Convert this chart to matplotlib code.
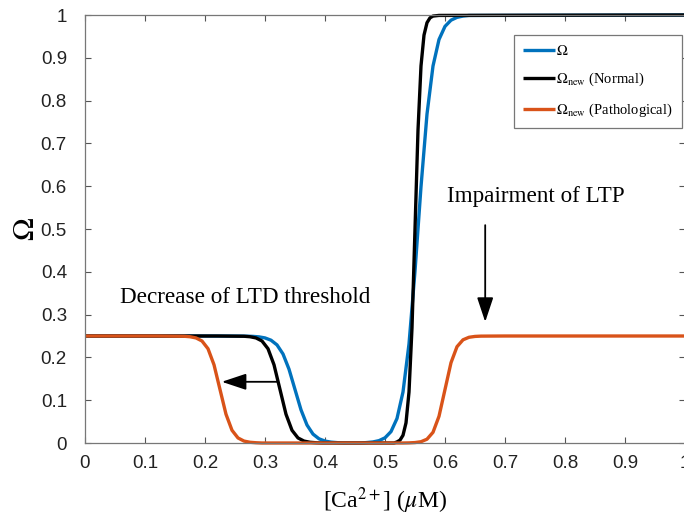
import matplotlib
matplotlib.use("Agg")
import matplotlib.pyplot as plt

# ---- data ----
omega_x = [0.00, 0.20, 0.26, 0.27, 0.28, 0.29, 0.30, 0.31, 0.32, 0.33, 0.34, 0.35, 0.36, 0.37,
           0.38, 0.39, 0.40, 0.41, 0.42, 0.43, 0.46, 0.47, 0.48, 0.49, 0.50, 0.51, 0.52, 0.53,
           0.54, 0.55, 0.56, 0.57, 0.58, 0.59, 0.60, 0.61, 0.62, 0.63, 0.64, 1.00]
omega_y = [0.25, 0.25, 0.2498, 0.2496, 0.2491, 0.2480, 0.2455, 0.2402, 0.2292, 0.2080, 0.1725,
           0.125, 0.0775, 0.0420, 0.0208, 0.0098, 0.0045, 0.0020, 0.0009, 0.0, 0.0, 0.0011,
           0.0025, 0.0055, 0.0121, 0.0266, 0.0573, 0.1192, 0.2315, 0.4013, 0.5987, 0.7685,
           0.8808, 0.9427, 0.9734, 0.9879, 0.9945, 0.9975, 0.9989, 1.0]

normal_x = [0.00, 0.22, 0.265, 0.275, 0.285, 0.295, 0.305, 0.315, 0.325, 0.335, 0.345, 0.355,
            0.365, 0.375, 0.385, 0.395, 0.515, 0.520, 0.525, 0.530, 0.535, 0.540, 0.545, 0.550,
            0.555, 0.560, 0.565, 0.570, 0.575, 0.580, 0.590, 1.00]
normal_y = [0.25, 0.25, 0.2494, 0.2483, 0.2455, 0.2383, 0.2203, 0.1828, 0.125, 0.0672, 0.0297,
            0.0118, 0.0045, 0.0017, 0.0006, 0.0, 0.0, 0.0025, 0.0067, 0.018, 0.047, 0.119,
            0.269, 0.5, 0.731, 0.881, 0.953, 0.982, 0.9933, 0.9975, 0.999, 1.0]

patho_x = [0.00, 0.12, 0.165, 0.175, 0.185, 0.195, 0.205, 0.215, 0.225, 0.235, 0.245, 0.255,
           0.265, 0.275, 0.285, 0.295, 0.53, 0.54, 0.55, 0.56, 0.57, 0.58, 0.59, 0.60, 0.61,
           0.62, 0.63, 0.64, 0.65, 0.66, 0.70, 1.00]
patho_y = [0.25, 0.25, 0.2494, 0.2483, 0.2455, 0.2383, 0.2203, 0.1828, 0.125, 0.0672, 0.0297,
           0.0118, 0.0045, 0.0017, 0.0006, 0.0, 0.0, 0.0003, 0.0010, 0.0030, 0.0089, 0.0250,
           0.0624, 0.125, 0.1876, 0.2250, 0.2411, 0.2470, 0.2490, 0.2497, 0.25, 0.25]

x_ticks = [0, 0.1, 0.2, 0.3, 0.4, 0.5, 0.6, 0.7, 0.8, 0.9, 1]
x_tick_labels = ["0", "0.1", "0.2", "0.3", "0.4", "0.5", "0.6", "0.7", "0.8", "0.9", "1"]
y_ticks = [0, 0.1, 0.2, 0.3, 0.4, 0.5, 0.6, 0.7, 0.8, 0.9, 1]
y_tick_labels = ["0", "0.1", "0.2", "0.3", "0.4", "0.5", "0.6", "0.7", "0.8", "0.9", "1"]

labels = [r"$\Omega$", r"$\Omega_{\rm new}$ (Normal)", r"$\Omega_{\rm new}$ (Pathological)"]
colors = ["#0072BD", "#000000", "#D95319"]

# ---- figure ----
plt.rcParams["mathtext.fontset"] = "stix"
plt.rcParams["font.family"] = ["Liberation Sans", "DejaVu Sans"]

fig = plt.figure(figsize=(6.84, 5.22), dpi=100)
ax = fig.add_axes([85 / 684, 1 - 443 / 522, 600 / 684, 428 / 522])

for xs, ys, c, lab in zip([omega_x, normal_x, patho_x], [omega_y, normal_y, patho_y], colors, labels):
    ax.plot(xs, ys, color=c, lw=2.4, label=lab, clip_on=False, solid_capstyle="butt")

ax.set_xlim(0, 1)
ax.set_ylim(0, 1)
ax.set_xticks(x_ticks)
ax.set_xticklabels(x_tick_labels)
ax.set_yticks(y_ticks)
ax.set_yticklabels(y_tick_labels)
ax.tick_params(direction="in", length=4, width=0.8, color="#555555", labelsize=13.5,
               labelcolor="#222222", top=True, right=True)
ax.tick_params(axis="y", pad=13)
ax.tick_params(axis="x", pad=9)
for s in ax.spines.values():
    s.set_color("#777777")
    s.set_linewidth(0.9)

ax.set_ylabel(r"$\Omega$", fontsize=22, rotation=90)
ax.yaxis.set_label_coords(-0.074, 0.5)
ax.set_xlabel(r"[Ca$^{2+}$] ($\mu$M)", fontsize=17, family="Liberation Serif", labelpad=9)

ax.text(0.058, 0.341, "Decrease of LTD threshold", fontsize=16.7, family="Liberation Serif",
        va="center", ha="left")
ax.text(0.603, 0.577, "Impairment of LTP", fontsize=16.7, family="Liberation Serif",
        va="center", ha="left")

arrow_kw = dict(arrowstyle="-|>,head_length=1.5,head_width=0.5", color="black", lw=1.3,
                shrinkA=0, shrinkB=0)
ax.annotate("", xy=(0.228, 0.143), xytext=(0.322, 0.143), arrowprops=arrow_kw)
ax.annotate("", xy=(0.667, 0.283), xytext=(0.667, 0.509), arrowprops=arrow_kw)

leg = ax.legend(loc="upper right", bbox_to_anchor=(0.995, 0.953), borderaxespad=0,
                prop={"family": "Liberation Serif", "size": 10.5},
                handlelength=2.2, handletextpad=0.1, labelspacing=0.9, borderpad=0.6,
                fancybox=False, framealpha=1, edgecolor="#777777")
leg.get_frame().set_linewidth(0.9)

fig.savefig("out.png", dpi=100)
